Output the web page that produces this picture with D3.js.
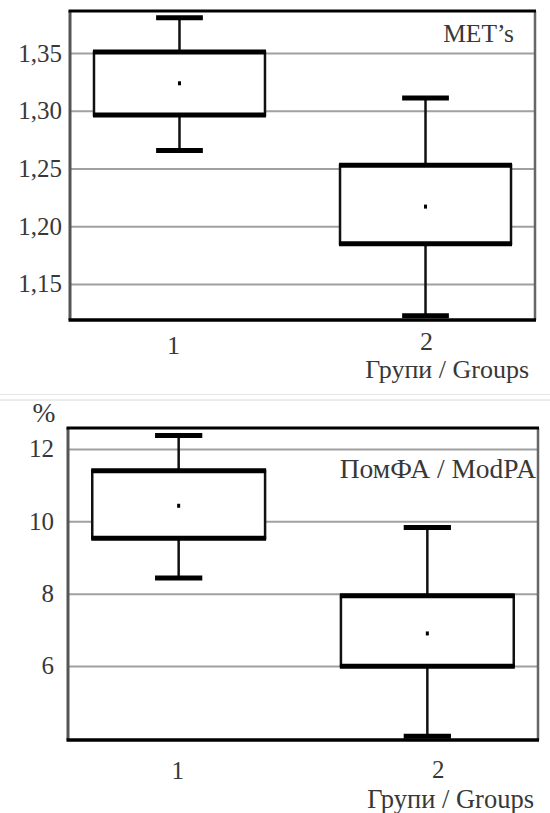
<!DOCTYPE html>
<html><head><meta charset="utf-8">
<script src="https://cdn.jsdelivr.net/npm/d3@7"></script>
<style>
html,body{margin:0;padding:0;background:#fff;}
svg{display:block;}
svg text{font-family:"Liberation Serif","Tinos","Times New Roman","DejaVu Serif",serif !important;fill:#383838;}
</style></head>
<body>
<svg id="chart" width="550" height="813"></svg>
<script>
// ---- Data ----
const categories = ["1", "2"];
const groupsLabel = "Групи / Groups";

// Panel A: MET's
const metTicks = [1.15, 1.20, 1.25, 1.30, 1.35];
const metWhiskerLow  = [1.2655, 1.1225];
const metQ1          = [1.2963, 1.1848];
const metQ3          = [1.3510, 1.2529];
const metWhiskerHigh = [1.3806, 1.3110];
const metMean        = [1.3238, 1.2170];

// Panel B: ModPA, %
const modTicks = [6, 8, 10, 12];
const modWhiskerLow  = [8.43, 4.06];
const modQ1          = [9.53, 5.99];
const modQ3          = [11.40, 7.94];
const modWhiskerHigh = [12.37, 9.83];
const modMean        = [10.43, 6.90];

const svg = d3.select("#chart");
const SERIF = "'Liberation Serif', Tinos, 'Times New Roman', 'DejaVu Serif', serif";

// separator lines between panels
svg.append("line").attr("x1",0).attr("x2",550).attr("y1",394.5).attr("y2",394.5).attr("stroke","#e4e4e4").attr("stroke-width",1);
svg.append("line").attr("x1",0).attr("x2",550).attr("y1",400).attr("y2",400).attr("stroke","#e4e4e4").attr("stroke-width",1.5);

function panel(cfg){
  const {left,right,top,bottom,domain,ticks,fmt,low,q1,q3,high,mean} = cfg;
  const x = d3.scalePoint().domain(categories).range([left,right]).padding(0.445);
  const y = d3.scaleLinear().domain(domain).range([bottom,top]);
  const step = x.step();
  const boxW = step*0.695, capW = step*0.19;
  const g = svg.append("g").attr("font-family",SERIF);

  // gridlines
  g.append("g").attr("transform",`translate(${left},0)`)
    .call(d3.axisLeft(y).tickValues(ticks).tickSize(-(right-left)).tickFormat(""))
    .call(s=>s.select(".domain").remove())
    .call(s=>s.selectAll("line").attr("stroke","#a0a0a0").attr("stroke-width",2));

  // tick labels
  g.append("g").attr("transform",`translate(${left},0)`)
    .call(d3.axisLeft(y).tickValues(ticks).tickSize(0).tickPadding(cfg.tickPad).tickFormat(fmt))
    .attr("font-family",SERIF)
    .call(s=>s.select(".domain").remove())
    .call(s=>s.selectAll("text").attr("font-size",cfg.tickFont).attr("font-family",SERIF).attr("fill","#3a3a3a"));

  const data = categories.map((c,i)=>({c,low:low[i],q1:q1[i],q3:q3[i],high:high[i],mean:mean[i]}));
  const b = g.selectAll(".box").data(data).join("g");
  b.append("line").attr("x1",d=>x(d.c)).attr("x2",d=>x(d.c))
    .attr("y1",d=>y(d.low)).attr("y2",d=>y(d.high)).attr("stroke","#111").attr("stroke-width",2.5);
  b.append("line").attr("x1",d=>x(d.c)-capW/2).attr("x2",d=>x(d.c)+capW/2)
    .attr("y1",d=>y(d.high)).attr("y2",d=>y(d.high)).attr("stroke","#000").attr("stroke-width",5);
  b.append("line").attr("x1",d=>x(d.c)-capW/2).attr("x2",d=>x(d.c)+capW/2)
    .attr("y1",d=>y(d.low)).attr("y2",d=>y(d.low)).attr("stroke","#000").attr("stroke-width",5);
  b.append("rect").attr("x",d=>x(d.c)-boxW/2).attr("width",boxW)
    .attr("y",d=>y(d.q3)).attr("height",d=>y(d.q1)-y(d.q3))
    .attr("fill","#fff").attr("stroke","#111").attr("stroke-width",2.5);
  b.append("line").attr("x1",d=>x(d.c)-boxW/2-1).attr("x2",d=>x(d.c)+boxW/2+1)
    .attr("y1",d=>y(d.q3)).attr("y2",d=>y(d.q3)).attr("stroke","#000").attr("stroke-width",5);
  b.append("line").attr("x1",d=>x(d.c)-boxW/2-1).attr("x2",d=>x(d.c)+boxW/2+1)
    .attr("y1",d=>y(d.q1)).attr("y2",d=>y(d.q1)).attr("stroke","#000").attr("stroke-width",5);
  b.append("rect").attr("x",d=>x(d.c)-1.5).attr("y",d=>y(d.mean)-2).attr("width",3).attr("height",4).attr("fill","#000");

  // frame
  g.append("line").attr("x1",left).attr("x2",left).attr("y1",top).attr("y2",bottom).attr("stroke","#555").attr("stroke-width",3);
  g.append("line").attr("x1",right).attr("x2",right).attr("y1",top).attr("y2",bottom).attr("stroke","#666").attr("stroke-width",2.5);
  g.append("line").attr("x1",left-1.5).attr("x2",right+1).attr("y1",top).attr("y2",top).attr("stroke","#000").attr("stroke-width",3);
  g.append("line").attr("x1",left-1.5).attr("x2",right+1).attr("y1",bottom).attr("y2",bottom).attr("stroke","#000").attr("stroke-width",3.5);

  g.selectAll(".xl").data(categories).join("text")
    .attr("x",(d,i)=>x(d)+cfg.xLabelDx[i]).attr("y",(d,i)=>cfg.xLabelY[i])
    .attr("text-anchor","middle").attr("font-size",cfg.xFont).text(d=>d);
  g.append("text").attr("x",cfg.groupsX).attr("y",cfg.groupsY).attr("text-anchor","end")
    .attr("font-size",cfg.groupsFont).text(groupsLabel);
  g.append("text").attr("x",cfg.titleX).attr("y",cfg.titleY).attr("text-anchor","end")
    .attr("font-size",cfg.titleFont).text(cfg.title);
  if(cfg.unit){
    g.append("text").attr("x",cfg.unitX).attr("y",cfg.unitY).attr("text-anchor","middle")
      .attr("font-size",cfg.titleFont).text(cfg.unit);
  }
}

panel({left:70,right:535,top:11,bottom:320,domain:[1.1188,1.3864],ticks:metTicks,
  fmt:d=>d3.format(".2f")(d).replace(".",","),tickPad:8,tickFont:25,
  low:metWhiskerLow,q1:metQ1,q3:metQ3,high:metWhiskerHigh,mean:metMean,
  xLabelDx:[-6,1],xLabelY:[354,350],xFont:26,groupsX:529,groupsY:378,groupsFont:26,
  title:"MET\u2019s",titleX:514,titleY:42,titleFont:25.5});

panel({left:68,right:538,top:428,bottom:740,domain:[3.954,12.58],ticks:modTicks,
  fmt:d=>d,tickPad:14,tickFont:25,
  low:modWhiskerLow,q1:modQ1,q3:modQ3,high:modWhiskerHigh,mean:modMean,
  xLabelDx:[-1,11],xLabelY:[779,778],xFont:25,groupsX:534,groupsY:808,groupsFont:26.5,
  title:"ПомФА / ModPA",titleX:536,titleY:478,titleFont:27.5,
  unit:"%",unitX:44,unitY:422});
</script>
</body></html>
